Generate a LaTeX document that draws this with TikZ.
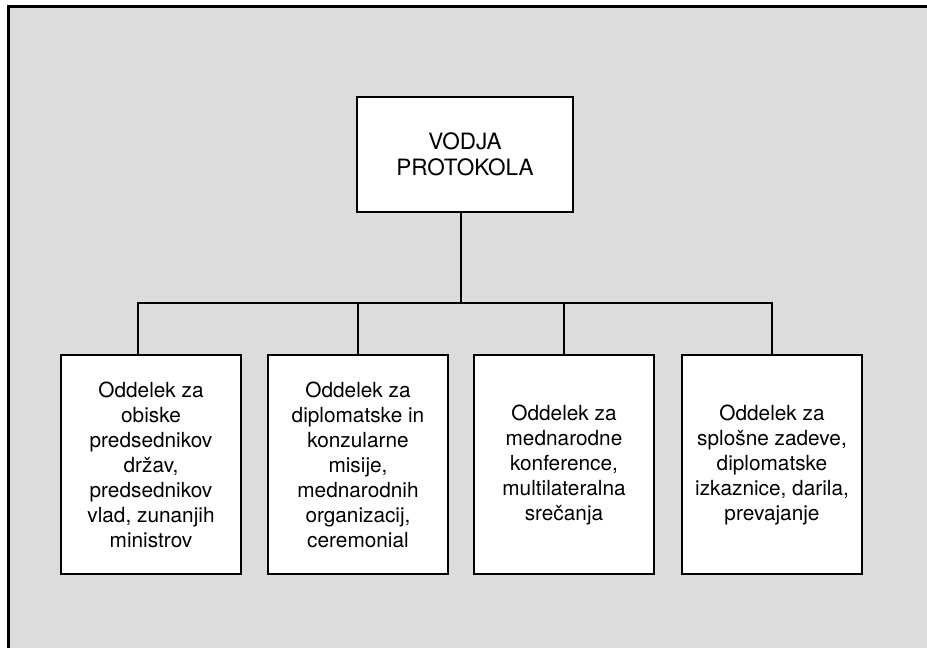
\documentclass[tikz,border=0pt]{standalone}
\usepackage{fontspec}
\setmainfont{TeX Gyre Heros}
\usepackage{xcolor}
\usepackage{tikz}

\definecolor{panel}{RGB}{220,220,220}

\tikzset{
  head/.style={draw, fill=white, line width=1.8pt, minimum width=216pt, minimum height=115pt,
    align=center, font=\fontsize{22.5}{26.5}\selectfont},
  unit/.style={draw, fill=white, line width=1.8pt, minimum width=180pt, minimum height=219pt,
    align=center, font=\fontsize{20.8}{25}\selectfont},
  link/.style={line width=1.5pt}
}

\begin{document}
\begin{tikzpicture}[x=1pt,y=-1pt]
  \useasboundingbox (0,0) rectangle (927,648);
  \draw[line width=3.5pt, fill=panel] (8.5,6.5) rectangle (960,680);

  \node[head] (chief) at (465,154.5) {VODJA\\PROTOKOLA};
  \node[unit] (u1) at (151,464.5) {Oddelek za\\obiske\\predsednikov\\držav,\\predsednikov\\vlad, zunanjih\\ministrov};
  \node[unit] (u2) at (358,464.5) {Oddelek za\\diplomatske in\\konzularne\\misije,\\mednarodnih\\organizacij,\\ceremonial};
  \node[unit] (u3) at (564,464.5) {Oddelek za\\mednarodne\\konference,\\multilateralna\\srečanja};
  \node[unit] (u4) at (772,464.5) {Oddelek za\\splošne zadeve,\\diplomatske\\izkaznice, darila,\\prevajanje};

  \coordinate (bus) at (461,303);
  \coordinate (d1) at (138,303);
  \draw[link] (chief.south -| bus) -- (bus);
  \draw[link] (d1 |- u1.north) -- (d1) -- (u4.north |- d1) -- (u4.north);
  \foreach \u in {u2,u3} {
    \draw[link] (\u.north) -- (\u.north |- d1);
  }
\end{tikzpicture}
\end{document}
